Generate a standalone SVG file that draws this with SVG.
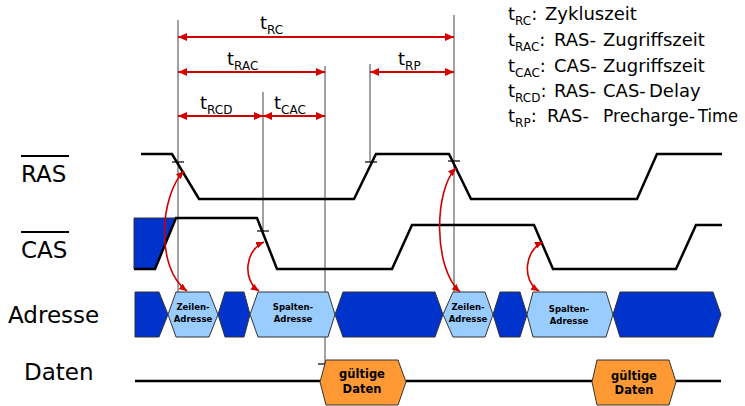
<svg xmlns="http://www.w3.org/2000/svg" width="745" height="406" viewBox="0 0 745 406">
<style>
text{font-family:"DejaVu Sans","Liberation Sans",sans-serif;fill:#000}
.lbl{font-size:18px}
.sub{font-size:12px}
.row{font-size:23px}
.sig{fill:none;stroke:#000;stroke-width:2.5;stroke-linejoin:miter}
.tick{stroke:#000;stroke-width:1.2}
.vl{stroke:#444;stroke-width:1}
.dim{stroke:#d40000;stroke-width:2;marker-start:url(#ah);marker-end:url(#ah)}
.cur{fill:none;stroke:#d40000;stroke-width:1.6;marker-start:url(#ah2);marker-end:url(#ah2)}
.dark{fill:#0033cc;stroke:#333;stroke-width:1}
.light{fill:#99ccff;stroke:#333;stroke-width:1}
.orange{fill:#ff9933;stroke:#333;stroke-width:1}
.in{font-size:8.5px;font-weight:bold;text-anchor:middle}
.dt{font-size:11.5px;font-weight:bold;text-anchor:middle}
</style>
<defs>
<marker id="ah" markerUnits="userSpaceOnUse" markerWidth="9" markerHeight="8" refX="9" refY="4" orient="auto-start-reverse"><path d="M0,0 L9,4 L0,8 z" fill="#d40000"/></marker>
<marker id="ah2" markerUnits="userSpaceOnUse" markerWidth="8" markerHeight="7" refX="8" refY="3.5" orient="auto-start-reverse"><path d="M0,0 L8,3.5 L0,7 z" fill="#d40000"/></marker>
</defs>

<g id="legend" class="lbl">
<text x="508" y="20">t<tspan class="sub" dy="5">RC</tspan><tspan dy="-5">: </tspan><tspan x="545">Zykluszeit</tspan></text>
<text x="508" y="46">t<tspan class="sub" dy="5">RAC</tspan><tspan dy="-5">: </tspan><tspan x="554">RAS-</tspan><tspan x="603">Zugriffszeit</tspan></text>
<text x="508" y="72">t<tspan class="sub" dy="5">CAC</tspan><tspan dy="-5">: </tspan><tspan x="554">CAS-</tspan><tspan x="603">Zugriffszeit</tspan></text>
<text x="508" y="97">t<tspan class="sub" dy="5">RCD</tspan><tspan dy="-5">: </tspan><tspan x="554">RAS-</tspan><tspan x="603">CAS-</tspan><tspan x="649">Delay</tspan></text>
<text x="508" y="122">t<tspan class="sub" dy="5">RP</tspan><tspan dy="-5">: </tspan><tspan x="547">RAS-</tspan><tspan x="603" textLength="92" lengthAdjust="spacingAndGlyphs">Precharge-</tspan><tspan x="698" textLength="40" lengthAdjust="spacingAndGlyphs">Time</tspan></text>
</g>

<g id="row-labels" class="row">
<g id="lbl-ras"><line x1="21" y1="156" x2="69" y2="156" stroke="#000" stroke-width="2"/><text x="21" y="182">RAS</text></g>
<g id="lbl-cas"><line x1="21" y1="232" x2="69" y2="232" stroke="#000" stroke-width="2"/><text x="21" y="258">CAS</text></g>
<g id="lbl-adr"><text x="8" y="323">Adresse</text></g>
<g id="lbl-dat"><text x="24" y="380">Daten</text></g>
</g>

<g id="guides">
<line class="vl" x1="178" y1="20" x2="178" y2="292"/>
<line class="vl" x1="263" y1="92" x2="263" y2="232"/>
<line class="vl" x1="325" y1="66" x2="325" y2="364"/>
<line class="vl" x1="370" y1="64" x2="370" y2="162"/>
<line class="vl" x1="454" y1="15" x2="454" y2="292"/>
</g>

<g id="cas-fill"><path class="dark" d="M134,218 H176 L155,269 H134 Z" stroke="none"/></g>

<g id="ras-signal"><path class="sig" d="M141,154 H172 L199,199 H354 L376,154 H449 L471,199 H637 L657,154 H722"/></g>
<g id="cas-signal"><path class="sig" d="M134,269 H155 L176,218 H257 L277,269 H392 L412,225 H534 L553,269 H676 L696,225 H722"/></g>
<g id="dat-signal"><path class="sig" d="M135,381 H320 M406,381 H592 M676,381 H721"/></g>

<g id="ticks">
<line class="tick" x1="172" y1="162" x2="184" y2="162"/>
<line class="tick" x1="365" y1="162" x2="377" y2="162"/>
<line class="tick" x1="448" y1="161" x2="460" y2="161"/>
<line class="tick" x1="257" y1="231" x2="269" y2="231"/>
<line class="tick" x1="318" y1="364" x2="331" y2="364"/>
</g>

<g id="addr-band">
<g id="a-d1"><path class="dark" d="M135,292 H159 L168,314.5 L159,337 H135 Z"/></g>
<g id="a-z1"><path class="light" d="M168,314.5 L176,292 H209 L218,314.5 L209,337 H176 Z"/><text class="in" x="193" y="310">Zeilen-</text><text class="in" x="193" y="322">Adresse</text></g>
<g id="a-d2"><path class="dark" d="M218,314.5 L225,292 H244 L250,314.5 L244,337 H225 Z"/></g>
<g id="a-s1"><path class="light" d="M250,314.5 L258,292 H328 L335,314.5 L328,337 H258 Z"/><text class="in" x="293" y="310">Spalten-</text><text class="in" x="293" y="322">Adresse</text></g>
<g id="a-d3"><path class="dark" d="M335,314.5 L343,292 H435 L443,314.5 L435,337 H343 Z"/></g>
<g id="a-z2"><path class="light" d="M443,314.5 L453,292 H485 L493,314.5 L485,337 H453 Z"/><text class="in" x="468" y="310">Zeilen-</text><text class="in" x="468" y="322">Adresse</text></g>
<g id="a-d4"><path class="dark" d="M493,314.5 L500,292 H520 L527,314.5 L520,337 H500 Z"/></g>
<g id="a-s2"><path class="light" d="M527,314.5 L533,292 H606 L613,314.5 L606,337 H533 Z"/><text class="in" x="569" y="312">Spalten-</text><text class="in" x="569" y="324">Adresse</text></g>
<g id="a-d5"><path class="dark" d="M613,314.5 L620,292 H713 L721,314.5 L713,337 H620 Z"/></g>
</g>

<g id="data1"><path class="orange" d="M320,382 L326,360 H398 L406,382 L398,405 H326 Z"/><text class="dt" x="362" y="378">gültige</text><text class="dt" x="362" y="393">Daten</text></g>
<g id="data2"><path class="orange" d="M592,382 L597,360 H669 L676,382 L669,405 H597 Z"/><text class="dt" x="634" y="380">gültige</text><text class="dt" x="634" y="394">Daten</text></g>

<g id="connectors">
<line class="dim" x1="178" y1="37" x2="454" y2="37"/>
<line class="dim" x1="178" y1="72" x2="325" y2="72"/>
<line class="dim" x1="370" y1="72" x2="454" y2="72"/>
<line class="dim" x1="178" y1="116" x2="263" y2="116"/>
<line class="dim" x1="263" y1="116" x2="325" y2="116"/>
<path class="cur" d="M184,171 C160,195 155,268 187,291"/>
<path class="cur" d="M264,242 C245,250 242,280 259,291"/>
<path class="cur" d="M456,168 C434,190 433,268 460,292"/>
<path class="cur" d="M543,242 C525,250 521,280 539,291"/>
</g>

<g id="dim-labels" class="lbl">
<text x="260" y="29">t<tspan class="sub" dy="5">RC</tspan></text>
<text x="227" y="65">t<tspan class="sub" dy="5">RAC</tspan></text>
<text x="398" y="65">t<tspan class="sub" dy="5">RP</tspan></text>
<text x="200" y="109">t<tspan class="sub" dy="5">RCD</tspan></text>
<text x="274" y="109">t<tspan class="sub" dy="5">CAC</tspan></text>
</g>
</svg>
